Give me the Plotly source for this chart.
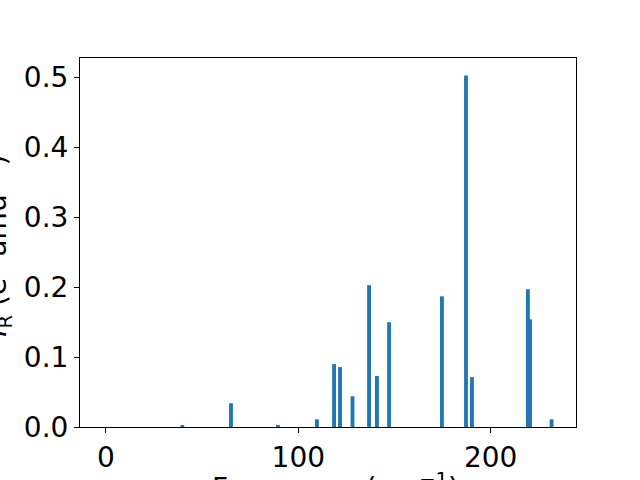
import plotly.graph_objects as go

# Frequencies (cm^-1) and IR intensities
freqs = [0.0, 39.7, 65.0, 89.4, 109.7, 118.6, 121.7, 128.2, 136.8, 140.9,
         147.2, 174.7, 187.2, 190.3, 219.4, 220.5, 231.7]
intens = [0.0, 0.0015, 0.034, 0.003, 0.011, 0.090, 0.0857, 0.044, 0.203, 0.073,
          0.150, 0.187, 0.503, 0.0714, 0.197, 0.154, 0.011]

x_ticks = [0, 100, 200]
y_ticks = [0.0, 0.1, 0.2, 0.3, 0.4, 0.5]

FONT = "DejaVu Sans"
FS = 28

fig = go.Figure()
fig.add_trace(go.Bar(x=freqs, y=intens, width=[2.0] * len(freqs),
                     marker=dict(color="#1f77b4", line=dict(width=0))))

fig.update_layout(
    width=640, height=480,
    margin=dict(l=80, r=64, t=58, b=53, autoexpand=False),
    paper_bgcolor="white", plot_bgcolor="white",
    barmode="overlay", showlegend=False,
    font=dict(family=FONT, size=FS, color="black"),
)
fig.update_xaxes(range=[-13.5, 244.4], tickvals=x_ticks, ticks="outside", ticklen=5,
                 tickwidth=1.1, tickcolor="black", showline=True, linecolor="black",
                 linewidth=1.1, mirror=True, showgrid=False, zeroline=False,
                 tickfont=dict(family=FONT, size=FS))
fig.update_yaxes(range=[0, 0.528], tickvals=y_ticks, tickformat=".1f", ticks="outside",
                 ticklen=5, tickwidth=1.1, tickcolor="black", showline=True,
                 linecolor="black", linewidth=1.1, mirror=True, showgrid=False,
                 zeroline=False, tickfont=dict(family=FONT, size=FS))

fig.add_annotation(text="<i>I</i><sub>R</sub> (e<sup>2</sup> amu<sup>−1</sup>)",
                   xref="paper", yref="paper", x=-0.168, y=0.49,
                   xanchor="center", yanchor="middle", textangle=-90,
                   showarrow=False, font=dict(family=FONT, size=FS))
fig.add_annotation(text="Frequency (cm<sup>−1</sup>)",
                   xref="paper", yref="paper", x=0.515, y=-0.106,
                   xanchor="center", yanchor="top",
                   showarrow=False, font=dict(family=FONT, size=FS))

fig.write_html("out.html", config={"displayModeBar": False},
               post_script="document.body.style.margin='0';")
